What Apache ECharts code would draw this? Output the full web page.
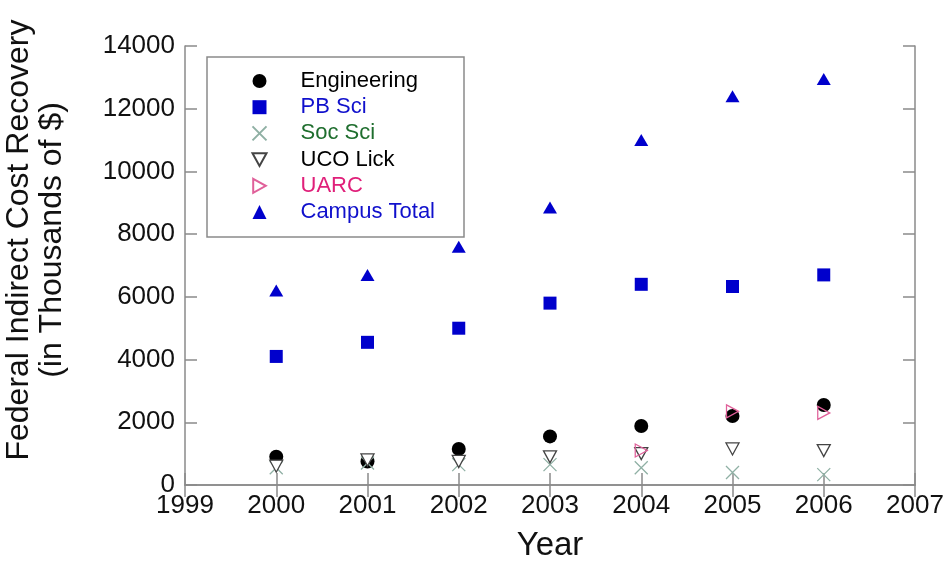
<!DOCTYPE html>
<html><head><meta charset="utf-8">
<script src="https://cdn.jsdelivr.net/npm/echarts@6/dist/echarts.min.js"></script>
<style>html,body{margin:0;padding:0;background:#fff}#c{width:952px;height:567px}</style>
</head><body><div id="c"></div>
<script>
const years = [2000, 2001, 2002, 2003, 2004, 2005, 2006];
const engineering = [900, 750, 1150, 1550, 1880, 2200, 2550];
const pbSci = [4100, 4550, 5000, 5800, 6400, 6330, 6700];
const socSci = [550, 700, 650, 650, 550, 400, 330];
const ucoLick = [600, 800, 750, 900, 1000, 1150, 1100];
const uarcYears = [2004, 2005, 2006];
const uarc = [1100, 2350, 2300];
const campusTotal = [6200, 6700, 7600, 8850, 11000, 12400, 12950];
const xTicks = [1999, 2000, 2001, 2002, 2003, 2004, 2005, 2006, 2007];
const yTicks = [0, 2000, 4000, 6000, 8000, 10000, 12000, 14000];
const yTitle = ['Federal Indirect Cost Recovery', '(in Thousands of $)'];
const xTitle = 'Year';

const pair = (xs, ys) => xs.map((x, i) => [x, ys[i]]);
const FONT = 'Liberation Sans, Arial, sans-serif';
const axisColor = '#8a8a8a';
const BLUE = '#0000cc';
const plain = v => String(v);

const chart = echarts.init(document.getElementById('c'));
const xCommon = {type: 'value', min: xTicks[0], max: xTicks[xTicks.length - 1], interval: 1,
  splitLine: {show: false}, axisLine: {lineStyle: {color: axisColor, width: 1.5}},
  axisTick: {inside: true, length: 12, lineStyle: {color: axisColor, width: 1.5}}};
const yCommon = {type: 'value', min: yTicks[0], max: yTicks[yTicks.length - 1], interval: 2000,
  splitLine: {show: false}, axisLine: {lineStyle: {color: axisColor, width: 1.5}},
  axisTick: {inside: true, length: 12, lineStyle: {color: axisColor, width: 1.5}}};

const X_PATH = 'path://M0,0L10,10M10,0L0,10';
const DOWN_TRI = 'path://M0,0L10,0L5,9Z';
const RIGHT_TRI = 'path://M0,0L9,5L0,10Z';
const series = [
  {name: 'Engineering', data: pair(years, engineering), symbol: 'circle', symbolSize: 14,
    itemStyle: {color: '#000'}},
  {name: 'PB Sci', data: pair(years, pbSci), symbol: 'rect', symbolSize: 13,
    itemStyle: {color: BLUE}},
  {name: 'Soc Sci', data: pair(years, socSci), symbol: X_PATH, symbolSize: 13,
    itemStyle: {color: 'none', borderColor: '#8fb0a4', borderWidth: 1.3}},
  {name: 'UCO Lick', data: pair(years, ucoLick), symbol: DOWN_TRI, symbolSize: [13, 12],
    itemStyle: {color: '#fff', borderColor: '#444', borderWidth: 1.3}},
  {name: 'UARC', data: pair(uarcYears, uarc), symbol: RIGHT_TRI, symbolSize: [12, 13],
    itemStyle: {color: 'rgba(255,255,255,0)', borderColor: '#e0609a', borderWidth: 1.3}},
  {name: 'Campus Total', data: pair(years, campusTotal), symbol: 'triangle', symbolSize: [14, 12],
    itemStyle: {color: BLUE}}
].map(s => Object.assign({type: 'scatter', xAxisIndex: 0, yAxisIndex: 0}, s,
  {itemStyle: Object.assign({opacity: 1}, s.itemStyle)}));

const legendColors = ['#000', '#1010cc', '#1f6e2e', '#000', '#e0207a', '#1010cc'];

chart.setOption({
  animation: false,
  backgroundColor: '#fff',
  grid: {left: 185, top: 46, right: 37, bottom: 81},
  xAxis: [
    Object.assign({position: 'bottom', name: xTitle, nameLocation: 'middle', nameGap: 44,
      nameTextStyle: {fontSize: 33, color: '#111', fontFamily: FONT},
      axisLabel: {fontSize: 26, color: '#111', fontFamily: FONT, margin: 8, formatter: plain}}, xCommon),
    Object.assign({position: 'top', axisLabel: {show: false}}, xCommon)
  ],
  yAxis: [
    Object.assign({position: 'left',
      axisLabel: {fontSize: 26, color: '#111', fontFamily: FONT, margin: 10, formatter: plain}}, yCommon),
    Object.assign({position: 'right', axisLabel: {show: false}}, yCommon)
  ],
  graphic: [
    {type: 'text', x: 19, y: 240, rotation: Math.PI / 2,
      style: {text: yTitle[0], font: '32px ' + FONT, fill: '#111', textAlign: 'center', textVerticalAlign: 'middle'}},
    {type: 'text', x: 52, y: 240, rotation: Math.PI / 2,
      style: {text: yTitle[1], font: '32px ' + FONT, fill: '#111', textAlign: 'center', textVerticalAlign: 'middle'}}
  ],
  legend: {
    orient: 'vertical', left: 207, top: 57,
    padding: [13, 29, 14, 43], itemGap: 4.2, itemWidth: 14, itemHeight: 14,
    borderColor: '#8a8a8a', borderWidth: 1.5, backgroundColor: '#fff',
    data: series.map((s, i) => ({name: s.name, textStyle: {color: legendColors[i]}})),
    textStyle: {fontSize: 22, lineHeight: 20, fontFamily: FONT, padding: [0, 0, 0, 29]}
  },
  series: series
});
</script></body></html>
